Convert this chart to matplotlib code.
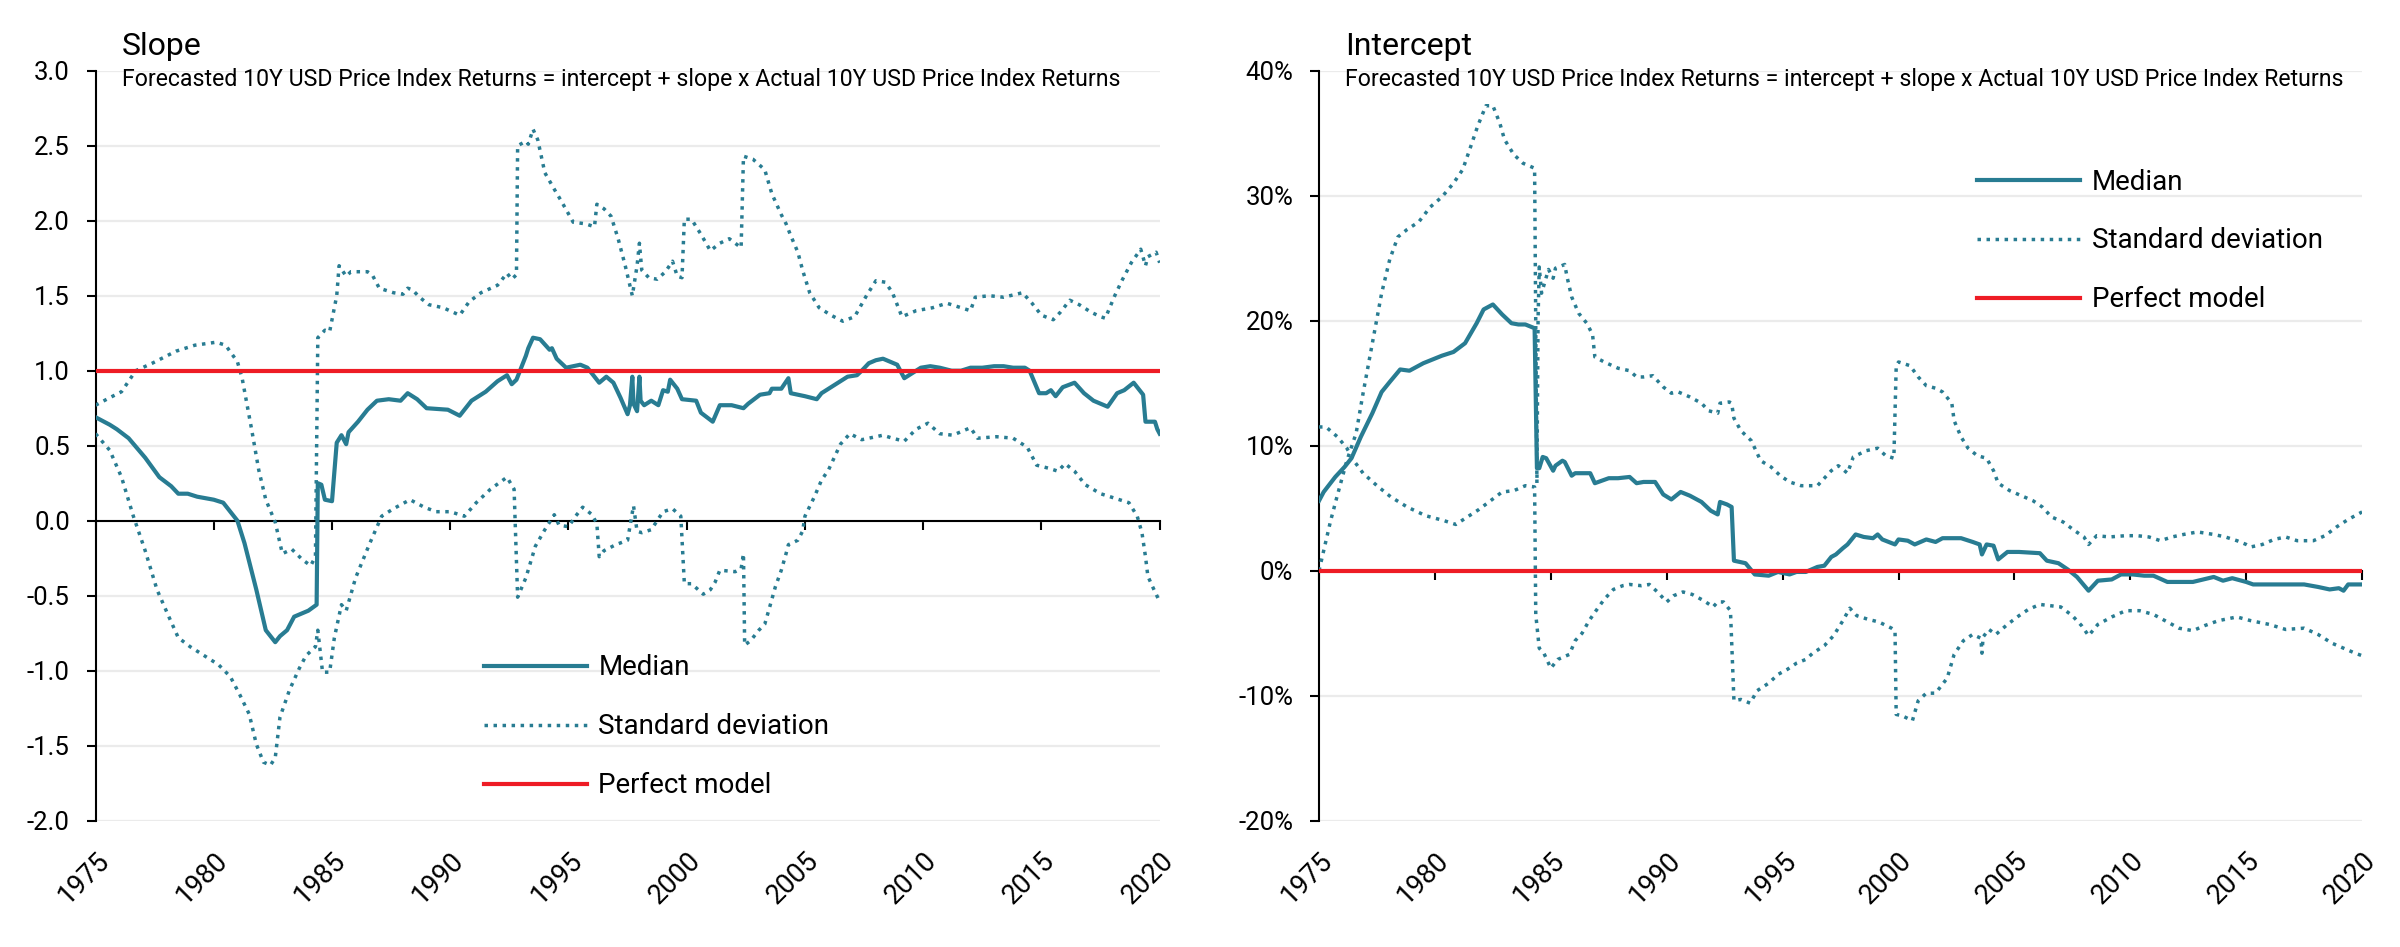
import matplotlib
matplotlib.use("Agg")
import matplotlib.pyplot as plt
from matplotlib.lines import Line2D

plt.rcParams['font.family'] = ['Roboto', 'DejaVu Sans']
plt.rcParams['axes.unicode_minus'] = False

TEAL = '#287C92'
RED = '#EE1C25'

year_ticks = [1975, 1980, 1985, 1990, 1995, 2000, 2005, 2010, 2015, 2020]
year_labels = [str(y) for y in year_ticks]

slope_ticks = [-2.0, -1.5, -1.0, -0.5, 0.0, 0.5, 1.0, 1.5, 2.0, 2.5, 3.0]
slope_tick_labels = ['-2.0', '-1.5', '-1.0', '-0.5', '0.0', '0.5', '1.0', '1.5', '2.0', '2.5', '3.0']
int_ticks = [-20, -10, 0, 10, 20, 30, 40]
int_tick_labels = ['-20%', '-10%', '0%', '10%', '20%', '30%', '40%']

subtitle = "Forecasted 10Y USD Price Index Returns = intercept + slope x Actual 10Y USD Price Index Returns"
legend_labels = ['Median', 'Standard deviation', 'Perfect model']

# ---------------- Slope: median ----------------
slope_med_x = [1975.0, 1975.6, 1975.9, 1976.4, 1977.1, 1977.7, 1978.2, 1978.5, 1978.9, 1979.3,
               1980.0, 1980.4, 1980.7, 1981.0, 1981.3, 1981.8, 1982.2, 1982.6, 1982.8, 1983.1,
               1983.4, 1983.7, 1984.0, 1984.35, 1984.4, 1984.55, 1984.7, 1985.0, 1985.2, 1985.4,
               1985.6, 1985.7, 1986.1, 1986.5, 1986.9, 1987.4, 1987.9, 1988.2, 1988.6, 1989.0,
               1989.9, 1990.4, 1990.9, 1991.5, 1992.0, 1992.4, 1992.6, 1992.8, 1993.2, 1993.3,
               1993.5, 1993.8, 1994.2, 1994.3, 1994.5, 1994.9, 1995.2, 1995.5, 1995.8, 1996.1,
               1996.3, 1996.6, 1996.9, 1997.2, 1997.5, 1997.6, 1997.7, 1997.75, 1997.9, 1998.0,
               1998.05, 1998.2, 1998.5, 1998.8, 1999.0, 1999.2, 1999.3, 1999.6, 1999.8, 2000.4,
               2000.6, 2001.1, 2001.4, 2001.9, 2002.4, 2002.6, 2003.1, 2003.5, 2003.6, 2004.0,
               2004.3, 2004.4, 2005.0, 2005.5, 2005.7, 2006.1, 2006.4, 2006.8, 2007.2, 2007.4,
               2007.7, 2008.0, 2008.3, 2008.6, 2008.9, 2009.2, 2009.5, 2009.9, 2010.3, 2010.7,
               2011.2, 2011.6, 2012.0, 2012.5, 2013.0, 2013.4, 2013.8, 2014.3, 2014.5, 2014.9,
               2015.2, 2015.4, 2015.6, 2015.9, 2016.4, 2016.8, 2017.2, 2017.5, 2017.8, 2018.2,
               2018.5, 2018.9, 2019.0, 2019.3, 2019.4, 2019.8, 2019.9, 2020.0]
slope_med_y = [0.69, 0.64, 0.61, 0.55, 0.42, 0.29, 0.23, 0.18, 0.18, 0.16,
               0.14, 0.12, 0.06, 0.00, -0.15, -0.46, -0.73, -0.81, -0.77, -0.73,
               -0.64, -0.62, -0.60, -0.56, 0.25, 0.24, 0.14, 0.13, 0.52, 0.57,
               0.51, 0.59, 0.66, 0.74, 0.80, 0.81, 0.80, 0.85, 0.81, 0.75,
               0.74, 0.70, 0.80, 0.86, 0.93, 0.97, 0.91, 0.94, 1.10, 1.15,
               1.22, 1.21, 1.14, 1.15, 1.08, 1.02, 1.03, 1.04, 1.02, 0.96,
               0.92, 0.96, 0.92, 0.82, 0.71, 0.77, 0.96, 0.78, 0.73, 0.96,
               0.80, 0.77, 0.80, 0.77, 0.87, 0.86, 0.94, 0.88, 0.81, 0.80,
               0.72, 0.66, 0.77, 0.77, 0.75, 0.78, 0.84, 0.85, 0.88, 0.88,
               0.95, 0.85, 0.83, 0.81, 0.85, 0.89, 0.92, 0.96, 0.97, 1.00,
               1.05, 1.07, 1.08, 1.06, 1.04, 0.95, 0.98, 1.02, 1.03, 1.02,
               1.00, 1.00, 1.02, 1.02, 1.03, 1.03, 1.02, 1.02, 1.00, 0.85,
               0.85, 0.87, 0.83, 0.89, 0.92, 0.85, 0.80, 0.78, 0.76, 0.85,
               0.87, 0.92, 0.90, 0.84, 0.66, 0.66, 0.61, 0.58]

# ---------------- Slope: upper standard deviation ----------------
slope_up_x = [1975.0, 1975.6, 1976.1, 1976.7, 1977.4, 1978.4, 1979.2, 1980.1, 1980.5, 1981.0,
              1981.2, 1981.6, 1981.9, 1982.2, 1982.6, 1982.9, 1983.3, 1983.75, 1984.1, 1984.3,
              1984.4, 1984.7, 1984.9, 1985.2, 1985.3, 1985.6, 1985.8, 1986.5, 1986.7, 1987.0,
              1987.6, 1988.0, 1988.2, 1988.4, 1988.7, 1989.1, 1989.7, 1990.4, 1990.8, 1991.3,
              1992.0, 1992.4, 1992.6, 1992.8, 1992.85, 1993.2, 1993.3, 1993.5, 1993.7, 1994.0,
              1994.4, 1994.7, 1995.2, 1995.7, 1996.1, 1996.2, 1996.5, 1996.8, 1997.1, 1997.4,
              1997.7, 1997.9, 1998.0, 1998.1, 1998.4, 1998.75, 1999.1, 1999.4, 1999.6, 1999.8,
              1999.9, 2000.2, 2000.6, 2001.0, 2001.4, 2001.8, 2002.3, 2002.4, 2002.8, 2003.3,
              2003.6, 2004.0, 2004.2, 2004.4, 2004.7, 2004.9, 2005.2, 2005.6, 2006.1, 2006.6,
              2007.1, 2007.6, 2008.0, 2008.4, 2008.7, 2009.1, 2009.7, 2010.4, 2011.0, 2011.6,
              2012.0, 2012.2, 2012.8, 2013.4, 2014.2, 2014.6, 2015.0, 2015.5, 2015.8, 2016.2,
              2016.6, 2017.1, 2017.5, 2017.7, 2018.1, 2018.4, 2018.8, 2019.2, 2019.4, 2019.5,
              2019.85, 2020.0]
slope_up_y = [0.77, 0.82, 0.86, 1.00, 1.05, 1.13, 1.17, 1.19, 1.17, 1.06,
              0.95, 0.61, 0.34, 0.14, -0.01, -0.22, -0.19, -0.26, -0.30, -0.24,
              1.22, 1.27, 1.26, 1.50, 1.70, 1.63, 1.66, 1.66, 1.64, 1.55,
              1.52, 1.51, 1.55, 1.54, 1.49, 1.44, 1.42, 1.37, 1.46, 1.52,
              1.57, 1.65, 1.61, 1.64, 2.50, 2.53, 2.51, 2.61, 2.54, 2.32,
              2.21, 2.13, 1.99, 1.98, 1.96, 2.11, 2.08, 2.03, 1.88, 1.70,
              1.50, 1.70, 1.85, 1.67, 1.62, 1.61, 1.66, 1.73, 1.63, 1.62,
              2.01, 2.01, 1.91, 1.80, 1.85, 1.88, 1.82, 2.43, 2.41, 2.34,
              2.18, 2.04, 1.98, 1.90, 1.79, 1.67, 1.52, 1.42, 1.37, 1.33,
              1.36, 1.50, 1.60, 1.59, 1.52, 1.36, 1.40, 1.42, 1.45, 1.42,
              1.40, 1.49, 1.50, 1.49, 1.52, 1.45, 1.37, 1.34, 1.39, 1.47,
              1.44, 1.39, 1.36, 1.35, 1.50, 1.60, 1.72, 1.81, 1.70, 1.76,
              1.79, 1.72]

# ---------------- Slope: lower standard deviation ----------------
slope_lo_x = [1975.0, 1975.6, 1976.1, 1976.6, 1977.1, 1977.6, 1978.1, 1978.5, 1979.0, 1979.6,
              1980.2, 1980.7, 1981.1, 1981.5, 1981.8, 1982.1, 1982.4, 1982.6, 1982.8, 1983.2,
              1983.6, 1983.9, 1984.3, 1984.4, 1984.6, 1984.9, 1985.1, 1985.4, 1985.6, 1986.0,
              1986.6, 1987.1, 1987.6, 1988.3, 1988.9, 1989.4, 1990.0, 1990.6, 1991.1, 1991.7,
              1992.4, 1992.7, 1992.85, 1993.2, 1993.6, 1994.0, 1994.4, 1994.6, 1995.0, 1995.3,
              1995.6, 1996.0, 1996.2, 1996.3, 1996.5, 1997.0, 1997.5, 1997.75, 1997.9, 1998.1,
              1998.5, 1999.0, 1999.4, 1999.75, 1999.9, 2000.2, 2000.7, 2001.0, 2001.2, 2001.4,
              2002.05, 2002.3, 2002.4, 2002.45, 2002.7, 2003.05, 2003.3, 2003.5, 2003.75, 2004.0,
              2004.2, 2004.3, 2004.7, 2004.9, 2005.0, 2005.4, 2005.7, 2006.0, 2006.5, 2006.9,
              2007.4, 2008.3, 2008.7, 2009.2, 2009.7, 2010.2, 2010.7, 2011.25, 2012.0, 2012.3,
              2013.1, 2013.8, 2014.4, 2014.8, 2015.3, 2015.7, 2016.0, 2016.4, 2016.85, 2017.5,
              2018.1, 2018.7, 2019.05, 2019.25, 2019.4, 2019.5, 2019.7, 2020.0]
slope_lo_y = [0.58, 0.47, 0.29, 0.03, -0.20, -0.46, -0.64, -0.78, -0.84, -0.90,
              -0.96, -1.04, -1.16, -1.29, -1.49, -1.61, -1.63, -1.58, -1.31, -1.13,
              -0.99, -0.90, -0.84, -0.73, -1.01, -1.01, -0.78, -0.56, -0.60, -0.38,
              -0.15, 0.03, 0.08, 0.14, 0.09, 0.06, 0.06, 0.03, 0.12, 0.21,
              0.29, 0.21, -0.51, -0.38, -0.17, -0.06, 0.04, -0.03, -0.04, 0.03,
              0.09, 0.04, -0.02, -0.24, -0.20, -0.16, -0.13, 0.10, -0.07, -0.08,
              -0.06, 0.06, 0.08, 0.03, -0.42, -0.42, -0.49, -0.46, -0.41, -0.33,
              -0.34, -0.32, -0.22, -0.83, -0.80, -0.73, -0.69, -0.58, -0.44, -0.33,
              -0.22, -0.16, -0.13, -0.07, 0.03, 0.16, 0.27, 0.34, 0.51, 0.58,
              0.54, 0.57, 0.55, 0.53, 0.61, 0.65, 0.58, 0.57, 0.62, 0.55,
              0.56, 0.55, 0.49, 0.37, 0.35, 0.33, 0.38, 0.33, 0.24, 0.18,
              0.15, 0.12, 0.03, -0.08, -0.24, -0.37, -0.44, -0.54]

# ---------------- Intercept (%): median ----------------
int_med_x = [1975.0, 1975.2, 1975.7, 1976.1, 1976.4, 1976.8, 1977.3, 1977.7, 1978.05, 1978.5,
             1978.9, 1979.5, 1980.3, 1980.8, 1981.3, 1981.8, 1982.1, 1982.5, 1982.9, 1983.3,
             1983.6, 1983.9, 1984.3, 1984.4, 1984.5, 1984.65, 1984.8, 1985.1, 1985.2, 1985.5,
             1985.6, 1985.9, 1986.05, 1986.4, 1986.7, 1986.9, 1987.05, 1987.5, 1987.9, 1988.4,
             1988.7, 1989.0, 1989.5, 1989.85, 1990.2, 1990.6, 1991.0, 1991.5, 1991.9, 1992.2,
             1992.3, 1992.6, 1992.8, 1992.9, 1993.4, 1993.8, 1994.4, 1994.8, 1995.3, 1995.6,
             1996.0, 1996.5, 1996.8, 1997.1, 1997.3, 1997.6, 1997.8, 1998.15, 1998.5, 1998.9,
             1999.1, 1999.3, 1999.85, 2000.0, 2000.4, 2000.7, 2001.2, 2001.6, 2001.9, 2002.7,
             2003.2, 2003.5, 2003.6, 2003.8, 2004.1, 2004.3, 2004.7, 2005.2, 2006.1, 2006.4,
             2006.9, 2007.3, 2007.7, 2008.2, 2008.6, 2009.2, 2009.6, 2010.1, 2010.6, 2011.0,
             2011.6, 2012.0, 2012.7, 2013.6, 2014.0, 2014.4, 2015.0, 2015.3, 2016.0, 2016.7,
             2017.5, 2018.1, 2018.6, 2019.0, 2019.2, 2019.4, 2020.0]
int_med_y = [5.6, 6.3, 7.5, 8.3, 9.0, 10.7, 12.6, 14.3, 15.1, 16.1,
             16.0, 16.6, 17.2, 17.5, 18.2, 19.8, 20.9, 21.3, 20.5, 19.8,
             19.7, 19.7, 19.4, 8.2, 8.2, 9.1, 9.0, 8.0, 8.4, 8.8,
             8.7, 7.6, 7.8, 7.8, 7.8, 7.0, 7.1, 7.4, 7.4, 7.5,
             7.0, 7.1, 7.1, 6.1, 5.7, 6.3, 6.0, 5.5, 4.8, 4.5,
             5.5, 5.3, 5.1, 0.8, 0.6, -0.3, -0.4, -0.1, -0.3, -0.1,
             -0.1, 0.3, 0.4, 1.1, 1.3, 1.8, 2.1, 2.9, 2.7, 2.6,
             2.9, 2.5, 2.1, 2.5, 2.4, 2.1, 2.5, 2.3, 2.6, 2.6,
             2.3, 2.1, 1.3, 2.1, 2.0, 0.9, 1.5, 1.5, 1.4, 0.8,
             0.6, 0.1, -0.5, -1.6, -0.8, -0.7, -0.3, -0.3, -0.4, -0.4,
             -0.9, -0.9, -0.9, -0.5, -0.8, -0.6, -0.9, -1.1, -1.1, -1.1,
             -1.1, -1.3, -1.5, -1.4, -1.6, -1.1, -1.1]

# ---------------- Intercept (%): upper standard deviation ----------------
int_up_x = [1975.0, 1975.2, 1975.5, 1975.8, 1976.2, 1976.6, 1976.9, 1977.3, 1977.7, 1978.05,
            1978.4, 1978.8, 1979.3, 1979.8, 1980.3, 1980.8, 1981.2, 1981.5, 1981.85, 1982.2,
            1982.5, 1982.8, 1983.0, 1983.4, 1983.8, 1984.3, 1984.4, 1984.45, 1984.5, 1984.6,
            1984.9, 1985.1, 1985.2, 1985.6, 1985.7, 1985.9, 1986.2, 1986.55, 1986.8, 1986.9,
            1987.3, 1987.9, 1988.4, 1988.7, 1989.0, 1989.4, 1989.85, 1990.2, 1990.5, 1991.0,
            1991.5, 1991.8, 1992.2, 1992.3, 1992.7, 1992.8, 1992.9, 1993.2, 1993.65, 1994.05,
            1994.5, 1994.9, 1995.3, 1995.8, 1996.5, 1996.8, 1997.1, 1997.4, 1997.8, 1998.05,
            1998.6, 1999.1, 1999.45, 1999.8, 1999.9, 2000.0, 2000.5, 2000.85, 2001.2, 2001.6,
            2001.9, 2002.3, 2002.4, 2002.7, 2003.0, 2003.4, 2003.8, 2004.1, 2004.3, 2004.8,
            2005.3, 2005.8, 2006.2, 2006.6, 2007.1, 2007.6, 2008.0, 2008.2, 2008.55, 2009.1,
            2009.8, 2010.3, 2010.8, 2011.3, 2011.8, 2012.3, 2012.9, 2013.6, 2014.1, 2014.6,
            2015.0, 2015.2, 2015.7, 2016.2, 2016.7, 2017.2, 2017.9, 2018.4, 2018.9, 2019.4,
            2020.0]
int_up_y = [0.0, 1.6, 4.0, 6.1, 8.8, 11.0, 14.2, 18.2, 22.2, 24.9,
            26.7, 27.3, 27.9, 29.1, 29.9, 31.0, 32.1, 33.7, 35.6, 37.2,
            37.2, 35.8, 34.5, 33.3, 32.6, 32.2, 7.0, 20.2, 24.3, 22.2,
            24.1, 23.4, 24.2, 24.5, 23.5, 21.9, 20.6, 19.8, 18.9, 17.1,
            16.7, 16.2, 16.0, 15.5, 15.5, 15.6, 14.7, 14.2, 14.3, 13.9,
            13.4, 12.8, 12.6, 13.4, 13.5, 13.4, 12.2, 11.2, 10.4, 8.8,
            8.3, 7.6, 7.1, 6.8, 6.8, 7.4, 8.0, 8.4, 7.8, 9.1,
            9.6, 9.8, 9.2, 9.0, 16.3, 16.7, 16.4, 15.5, 14.8, 14.6,
            14.3, 13.4, 12.0, 10.7, 9.8, 9.2, 9.0, 8.0, 7.0, 6.4,
            6.0, 5.6, 5.1, 4.3, 3.9, 3.2, 2.7, 2.1, 2.8, 2.7,
            2.8, 2.8, 2.7, 2.4, 2.7, 2.9, 3.1, 2.9, 2.7, 2.4,
            2.1, 1.9, 2.1, 2.5, 2.7, 2.4, 2.4, 2.8, 3.5, 4.1,
            4.7]

# ---------------- Intercept (%): lower standard deviation ----------------
int_lo_x = [1975.0, 1975.3, 1975.8, 1976.2, 1976.5, 1976.9, 1977.5, 1978.1, 1978.8, 1979.6,
            1980.4, 1980.9, 1981.4, 1981.9, 1982.4, 1982.9, 1983.4, 1983.9, 1984.3, 1984.35,
            1984.5, 1984.7, 1985.0, 1985.3, 1985.8, 1986.05, 1986.35, 1986.65, 1986.95, 1987.3,
            1987.7, 1988.1, 1988.4, 1988.9, 1989.25, 1989.6, 1990.0, 1990.3, 1990.7, 1991.1,
            1991.6, 1992.0, 1992.2, 1992.45, 1992.75, 1992.9, 1993.2, 1993.6, 1993.9, 1994.4,
            1994.8, 1995.2, 1995.6, 1996.0, 1996.3, 1996.8, 1997.2, 1997.6, 1997.9, 1998.2,
            1998.7, 1999.15, 1999.7, 1999.85, 1999.9, 2000.15, 2000.6, 2000.85, 2001.2, 2001.6,
            2002.1, 2002.4, 2002.8, 2003.2, 2003.55, 2003.6, 2003.65, 2003.9, 2004.2, 2004.7,
            2005.2, 2005.6, 2006.1, 2006.55, 2007.0, 2007.5, 2007.9, 2008.2, 2008.6, 2009.2,
            2009.8, 2010.4, 2011.0, 2011.5, 2012.1, 2012.7, 2013.2, 2013.8, 2014.6, 2015.2,
            2016.0, 2016.7, 2017.5, 2018.1, 2018.7, 2019.2, 2019.7, 2020.0]
int_lo_y = [11.5, 11.5, 10.7, 9.8, 8.8, 7.8, 6.8, 5.9, 5.1, 4.4,
            4.0, 3.7, 4.3, 4.9, 5.6, 6.3, 6.4, 6.8, 6.7, -3.5,
            -6.2, -6.6, -7.8, -7.1, -6.7, -5.6, -5.0, -4.0, -3.2, -2.3,
            -1.5, -1.2, -1.1, -1.2, -1.1, -1.7, -2.5, -2.0, -1.7, -1.9,
            -2.4, -2.9, -2.5, -2.5, -3.2, -10.4, -10.3, -10.6, -9.6, -9.0,
            -8.3, -7.9, -7.4, -7.1, -6.6, -6.0, -5.2, -4.0, -3.0, -3.6,
            -3.9, -4.1, -4.6, -4.8, -11.5, -11.6, -12.0, -10.4, -9.8, -9.8,
            -8.6, -6.7, -5.6, -5.1, -5.4, -6.6, -5.3, -4.7, -5.1, -4.3,
            -3.6, -3.1, -2.7, -2.8, -2.9, -3.6, -4.4, -5.2, -4.3, -3.7,
            -3.2, -3.2, -3.5, -4.0, -4.6, -4.8, -4.4, -4.0, -3.7, -4.0,
            -4.3, -4.7, -4.6, -5.1, -5.8, -6.2, -6.6, -6.8]

perfect_slope = 1.0
perfect_intercept = 0.0

# ---------------- Figure ----------------
fig = plt.figure(figsize=(24, 9.47), dpi=100)
ax1 = fig.add_axes([0.0398, 0.1334, 0.4434, 0.7919])
ax2 = fig.add_axes([0.5496, 0.1334, 0.4346, 0.7919])

DOT = (0, (1, 1.6))


def style_axis(ax, yticks, ylabels, ylim, title):
    ax.set_xlim(1975, 2020)
    ax.set_ylim(*ylim)
    ax.set_yticks(yticks)
    ax.set_yticklabels(ylabels, fontsize=18.5)
    ax.set_xticks(year_ticks)
    ax.tick_params(axis='x', direction='out', length=6.5, width=1.5, labelbottom=False)
    ax.tick_params(axis='y', direction='out', length=6.5, width=1.5, pad=12)
    for s in ['top', 'right']:
        ax.spines[s].set_visible(False)
    ax.spines['left'].set_linewidth(1.5)
    ax.spines['bottom'].set_linewidth(1.5)
    ax.spines['bottom'].set_position(('data', 0))
    ax.yaxis.grid(True, color='#ebebeb', linewidth=1.6, zorder=0)
    ax.set_axisbelow(True)
    sec = ax.secondary_xaxis('bottom')
    sec.set_xticks(year_ticks)
    sec.set_xticklabels(year_labels, rotation=45, ha='right', va='top',
                        rotation_mode='anchor', fontsize=19.5)
    sec.tick_params(length=0, pad=19)
    sec.spines['bottom'].set_visible(False)
    ax.text(0.025, 1.021, title, transform=ax.transAxes, fontsize=23,
            ha='left', va='baseline')
    ax.text(0.025, 0.980, subtitle, transform=ax.transAxes, fontsize=16.7,
            ha='left', va='baseline')


def draw(ax, mx, my, ux, uy, lx, ly, perfect):
    ax.plot(mx, my, color=TEAL, lw=3.0, zorder=4, solid_joinstyle='round')
    ax.plot(ux, uy, color=TEAL, lw=2.5, ls=DOT, zorder=4)
    ax.plot(lx, ly, color=TEAL, lw=2.5, ls=DOT, zorder=4)
    ax.axhline(perfect, color=RED, lw=3.0, zorder=5)


draw(ax1, slope_med_x, slope_med_y, slope_up_x, slope_up_y, slope_lo_x, slope_lo_y, perfect_slope)
draw(ax2, int_med_x, int_med_y, int_up_x, int_up_y, int_lo_x, int_lo_y, perfect_intercept)

style_axis(ax1, slope_ticks, slope_tick_labels, (-2.0, 3.0), 'Slope')
style_axis(ax2, int_ticks, int_tick_labels, (-20, 40), 'Intercept')

handles = [Line2D([], [], color=TEAL, lw=3.0),
           Line2D([], [], color=TEAL, lw=2.5, ls=DOT),
           Line2D([], [], color=RED, lw=3.0)]
for ax, anchor in [(ax1, (0.365, 0.125)), (ax2, (0.631, 0.773))]:
    ax.legend(handles, legend_labels, loc='center left', bbox_to_anchor=anchor,
              frameon=False, fontsize=20, handlelength=3.7, handletextpad=0.42,
              labelspacing=1.15, borderpad=0, borderaxespad=0)

fig.savefig('out.png', dpi=100, facecolor='white')
